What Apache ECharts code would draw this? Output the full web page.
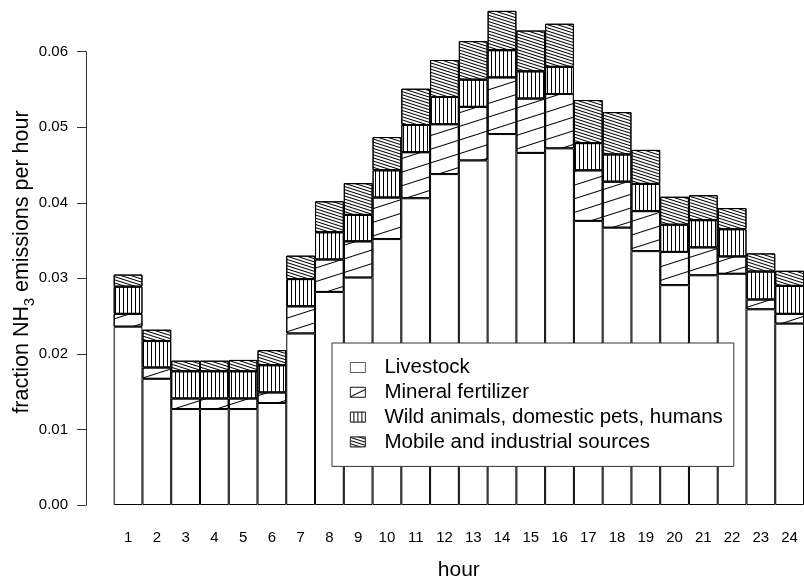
<!DOCTYPE html>
<html>
<head>
<meta charset="utf-8">
<script src="https://cdn.jsdelivr.net/npm/echarts@6/dist/echarts.min.js"></script>
<style>
  html, body { margin: 0; padding: 0; background: #fff; }
  #chart { width: 804px; height: 586px; }
</style>
</head>
<body>
<div id="chart"></div>
<script>
// Hourly fractions of NH3 emissions by source (stacked)
const hours = ['1','2','3','4','5','6','7','8','9','10','11','12','13','14','15','16','17','18','19','20','21','22','23','24'];
const livestock = [0.0236, 0.0167, 0.0127, 0.0127, 0.0127, 0.0135, 0.0227, 0.0282, 0.0301, 0.0352, 0.0406, 0.0438,
                   0.0456, 0.0491, 0.0466, 0.0472, 0.0376, 0.0367, 0.0336, 0.0291, 0.0304, 0.0306, 0.0259, 0.0240];
const mineral = [0.0017, 0.0015, 0.0014, 0.0014, 0.0014, 0.0014, 0.0036, 0.0043, 0.0048, 0.0055, 0.0061, 0.0066,
                 0.0071, 0.0075, 0.0072, 0.0072, 0.0067, 0.0061, 0.0053, 0.0044, 0.0037, 0.0023, 0.0013, 0.0013];
const wild = [0.0036, 0.0035, 0.0036, 0.0036, 0.0036, 0.0036, 0.0036, 0.0036, 0.0035, 0.0036, 0.0036, 0.0036,
              0.0036, 0.0036, 0.0036, 0.0036, 0.0036, 0.0036, 0.0036, 0.0036, 0.0036, 0.0036, 0.0037, 0.0037];
const mobile = [0.0016, 0.0015, 0.0014, 0.0014, 0.0015, 0.0020, 0.0031, 0.0041, 0.0042, 0.0044, 0.0048, 0.0049,
                0.0051, 0.0052, 0.0054, 0.0057, 0.0057, 0.0056, 0.0045, 0.0037, 0.0033, 0.0028, 0.0024, 0.0020];
const seriesNames = ['Livestock', 'Mineral fertilizer', 'Wild animals, domestic pets, humans', 'Mobile and industrial sources'];
const yTicks = [0, 0.06, 0.01];

const FONT = '"Liberation Sans", Arial, Helvetica, sans-serif';

// hatching for each source
const hatch = [
  null,
  { symbol: 'rect', symbolSize: 1, dashArrayX: [1, 0], dashArrayY: [1, 12], rotation: -0.31, color: '#000' },
  { symbol: 'rect', symbolSize: 1, dashArrayX: [1, 0], dashArrayY: [1, 3], rotation: Math.PI / 2, color: '#000' },
  { symbol: 'rect', symbolSize: 1, dashArrayX: [1, 0], dashArrayY: [1, 2], rotation: 0.31, color: '#000' }
];
// the small legend key needs a single diagonal stroke for the fertilizer hatch
const fertilizerKey = { symbol: 'rect', symbolSize: 1, dashArrayX: [1, 0], dashArrayY: [1, 7], rotation: -0.45, color: '#000' };

function barSeries(name, data, decal) {
  const itemStyle = { color: '#fff', borderColor: '#000', borderWidth: 1 };
  if (decal) itemStyle.decal = decal;
  return {
    name: name,
    type: 'bar',
    stack: 'total',
    data: data,
    barCategoryGap: 0,
    clip: false,
    itemStyle: itemStyle,
    emphasis: { disabled: true }
  };
}

const chart = echarts.init(document.getElementById('chart'), null, { renderer: 'canvas' });
chart.setOption({
  animation: false,
  backgroundColor: '#fff',
  grid: { left: 113.7, top: 51.7, width: 698.4, height: 460.6, containLabel: false },
  xAxis: {
    type: 'category',
    data: hours,
    boundaryGap: true,
    axisLine: { show: false },
    axisTick: { show: false },
    axisLabel: { interval: 0, margin: 25, fontSize: 15, color: '#000', fontFamily: FONT },
    name: 'hour',
    nameLocation: 'middle',
    nameGap: 55,
    nameTextStyle: { fontSize: 21, color: '#000', fontFamily: FONT }
  },
  yAxis: {
    type: 'value',
    min: yTicks[0],
    max: yTicks[1],
    interval: yTicks[2],
    offset: 27.7,
    splitLine: { show: false },
    axisLine: { show: true, lineStyle: { color: '#333', width: 1 } },
    axisTick: { show: true, length: 9, lineStyle: { color: '#333', width: 1 } },
    axisLabel: { margin: 18, fontSize: 15, color: '#000', fontFamily: FONT,
                 formatter: v => v.toFixed(2) }
  },
  legend: {
    data: [
      seriesNames[0],
      { name: seriesNames[1], itemStyle: { decal: fertilizerKey } },
      seriesNames[2],
      seriesNames[3]
    ],
    orient: 'vertical',
    left: 332,
    top: 343,
    padding: [14, 11, 14, 18],
    itemGap: 3.8,
    itemWidth: 15,
    itemHeight: 10,
    icon: 'rect',
    backgroundColor: '#fff',
    borderColor: '#333',
    borderWidth: 1,
    selectedMode: false,
    itemStyle: { borderWidth: 0.8, borderColor: '#333' },
    textStyle: { fontSize: 20.5, color: '#000', fontFamily: FONT, padding: [0, 0, 0, 14] }
  },
  graphic: [{
    type: 'text',
    x: 24,
    y: 262,
    rotation: Math.PI / 2,
    style: {
      text: '{a|fraction NH}{s|3}{a| emissions per hour}',
      align: 'center',
      verticalAlign: 'middle',
      fill: '#000',
      rich: {
        a: { fontSize: 21.5, fontFamily: FONT, lineHeight: 26, verticalAlign: 'top', fill: '#000' },
        s: { fontSize: 14.5, fontFamily: FONT, lineHeight: 14, verticalAlign: 'bottom', fill: '#000' }
      }
    }
  }],
  series: [
    barSeries(seriesNames[0], livestock, hatch[0]),
    barSeries(seriesNames[1], mineral, hatch[1]),
    barSeries(seriesNames[2], wild, hatch[2]),
    barSeries(seriesNames[3], mobile, hatch[3])
  ]
});
</script>
</body>
</html>
